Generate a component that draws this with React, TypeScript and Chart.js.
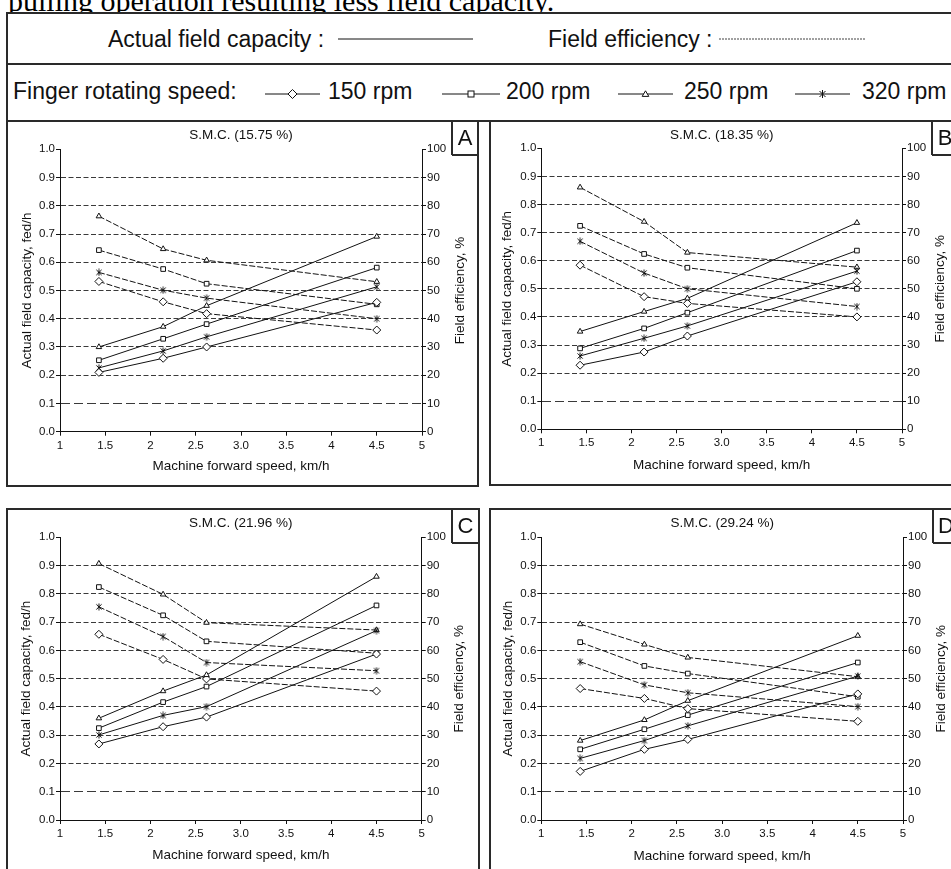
import React, { useEffect, useRef } from 'react';
import { Chart, registerables } from 'chart.js';

Chart.register(...registerables);

const SANS = '"Liberation Sans", Arial, Helvetica, sans-serif';
const SERIF = '"Liberation Serif", "Times New Roman", serif';
const INK = '#111111';
const LINE = '#2a2a2a';

// ---------- data ----------
const forwardSpeed = [1.43, 2.14, 2.62, 4.5]; // km/h
const rpmLabels = ['150 rpm', '200 rpm', '250 rpm', '320 rpm'];
const xTickLabels = ['1', '1.5', '2', '2.5', '3.0', '3.5', '4', '4.5', '5'];
const panelTitles = ['S.M.C. (15.75 %)', 'S.M.C. (18.35 %)', 'S.M.C. (21.96 %)', 'S.M.C. (29.24 %)'];
const panelLetters = ['A', 'B', 'C', 'D'];

// Actual field capacity, fed/h  (rows: 150, 200, 250, 320 rpm)
const capacityA = [
  [0.21, 0.26, 0.3, 0.458],
  [0.253, 0.329, 0.381, 0.581],
  [0.3, 0.372, 0.446, 0.691],
  [0.226, 0.286, 0.336, 0.513],
];
// Field efficiency, %
const efficiencyA = [
  [53.2, 46.0, 41.8, 36.0],
  [64.3, 57.6, 52.4, 45.1],
  [76.3, 64.7, 60.7, 53.1],
  [56.4, 50.1, 47.3, 40.0],
];

const capacityB = [
  [0.228, 0.275, 0.332, 0.525],
  [0.288, 0.359, 0.415, 0.636],
  [0.348, 0.419, 0.466, 0.735],
  [0.261, 0.324, 0.368, 0.563],
];
const efficiencyB = [
  [58.4, 47.2, 44.8, 40.0],
  [72.4, 62.4, 57.5, 50.0],
  [86.1, 73.9, 62.9, 57.7],
  [66.9, 55.6, 50.0, 43.7],
];

const capacityC = [
  [0.269, 0.33, 0.364, 0.587],
  [0.325, 0.417, 0.472, 0.759],
  [0.36, 0.456, 0.513, 0.861],
  [0.301, 0.37, 0.401, 0.67],
];
const efficiencyC = [
  [65.7, 56.8, 49.9, 45.6],
  [82.4, 72.4, 63.2, 59.0],
  [90.7, 79.8, 69.8, 67.2],
  [75.4, 64.9, 55.7, 52.8],
];

const capacityD = [
  [0.172, 0.25, 0.285, 0.446],
  [0.25, 0.321, 0.371, 0.557],
  [0.281, 0.354, 0.422, 0.652],
  [0.218, 0.281, 0.333, 0.509],
];
const efficiencyD = [
  [46.5, 43.0, 39.4, 34.9],
  [62.9, 54.5, 51.8, 43.6],
  [69.3, 62.1, 57.5, 50.7],
  [56.0, 47.8, 45.0, 40.1],
];

const capacitySets = [capacityA, capacityB, capacityC, capacityD];
const efficiencySets = [efficiencyA, efficiencyB, efficiencyC, efficiencyD];

// ---------- layout (page pixels) ----------
const panelGeom = [
  { x: 8, y: 121, w: 470, h: 365, top: 28.3, left: 52, right: 56, bottom: 54.3, xTitleGap: 35, yTitleGap: 32.7, titleGap: 13.6 },
  { x: 490, y: 121, w: 461, h: 364, top: 27.3, left: 51.3, right: 49, bottom: 55.7, xTitleGap: 36.4, yTitleGap: 34, titleGap: 12.8 },
  { x: 8, y: 509, w: 471, h: 360, top: 28.3, left: 52, right: 57.3, bottom: 49, xTitleGap: 35, yTitleGap: 33.3, titleGap: 14 },
  { x: 490, y: 509, w: 461, h: 360, top: 28.3, left: 51.3, right: 48, bottom: 49, xTitleGap: 36.5, yTitleGap: 32.6, titleGap: 14 },
];

function makeStarMarker(size: number): HTMLCanvasElement {
  const c = document.createElement('canvas');
  c.width = size;
  c.height = size;
  const g = c.getContext('2d')!;
  g.strokeStyle = INK;
  g.lineWidth = 1;
  const m = size / 2;
  const r = size / 2 - 0.5;
  g.beginPath();
  g.moveTo(m - r * 0.75, m - r * 0.75);
  g.lineTo(m + r * 0.75, m + r * 0.75);
  g.moveTo(m + r * 0.75, m - r * 0.75);
  g.lineTo(m - r * 0.75, m + r * 0.75);
  g.moveTo(m, m - r);
  g.lineTo(m, m + r);
  g.stroke();
  return c;
}

const TITLE_SIZE = 13.5;

const panelTextPlugin = {
  id: 'panelText',
  afterDraw(chart: any, _args: any, opts: any) {
    const { ctx, chartArea: ca } = chart;
    ctx.save();
    ctx.fillStyle = INK;
    ctx.textAlign = 'center';
    ctx.textBaseline = 'middle';
    ctx.font = `${TITLE_SIZE}px ${SANS}`;
    ctx.fillText(opts.title, (ca.left + ca.right) / 2, ca.top - opts.titleGap);
    ctx.translate(ca.right + 38, (ca.top + ca.bottom) / 2);
    ctx.rotate(-Math.PI / 2);
    ctx.fillText(opts.rightTitle, 0, 0);
    ctx.restore();
  },
};

const near = (a: number, b: number) => Math.abs(a - b) < 1e-6;

function PanelChart({ idx }: { idx: number }) {
  const ref = useRef<HTMLCanvasElement | null>(null);
  const g = panelGeom[idx];
  useEffect(() => {
    const star = makeStarMarker(8);
    const markerStyles: any[] = ['rectRot', 'rect', 'triangle', star];
    const markerRadius = [4, 3.3, 3.2, 4];
    const capacity = capacitySets[idx];
    const efficiency = efficiencySets[idx];
    const datasets: any[] = [];
    capacity.forEach((vals, i) => {
      datasets.push({
        label: `Actual field capacity ${rpmLabels[i]}`,
        data: forwardSpeed.map((x, j) => ({ x, y: vals[j] })),
        yAxisID: 'y',
        borderColor: INK,
        borderWidth: 1,
        pointStyle: markerStyles[i],
        pointRadius: markerRadius[i],
        pointBorderWidth: 1,
        pointBackgroundColor: '#ffffff',
        pointBorderColor: INK,
        fill: false,
        tension: 0,
      });
    });
    efficiency.forEach((vals, i) => {
      datasets.push({
        label: `Field efficiency ${rpmLabels[i]}`,
        data: forwardSpeed.map((x, j) => ({ x, y: vals[j] })),
        yAxisID: 'y1',
        borderColor: INK,
        borderWidth: 1,
        borderDash: [6, 2],
        pointStyle: markerStyles[i],
        pointRadius: markerRadius[i],
        pointBorderWidth: 1,
        pointBackgroundColor: '#ffffff',
        pointBorderColor: INK,
        fill: false,
        tension: 0,
      });
    });

    const tickFont = { family: SANS, size: 11.5 };
    const titleFont = { family: SANS, size: TITLE_SIZE };
    const half = (TITLE_SIZE * 1.2) / 2;
    const chart = new Chart(ref.current!, {
      type: 'line',
      data: { datasets },
      plugins: [panelTextPlugin as any],
      options: {
        animation: false,
        responsive: false,
        devicePixelRatio: 1,
        events: [],
        layout: { padding: { top: g.top, left: 0, right: 0, bottom: 0 } },
        plugins: {
          legend: { display: false },
          title: { display: false },
          tooltip: { enabled: false },
          panelText: { title: panelTitles[idx], rightTitle: 'Field efficiency, %', titleGap: g.titleGap },
        } as any,
        scales: {
          x: {
            type: 'linear',
            min: 1,
            max: 5,
            afterFit: (s: any) => {
              s.height = g.bottom;
            },
            ticks: {
              stepSize: 0.5,
              autoSkip: false,
              maxRotation: 0,
              padding: 3,
              color: INK,
              font: tickFont,
              callback: (v: any) => xTickLabels[Math.round((Number(v) - 1) * 2)] ?? String(v),
            },
            grid: { drawOnChartArea: false, drawTicks: true, tickLength: 4, tickColor: INK, color: INK },
            border: { display: true, color: INK, width: 1 },
            title: {
              display: true,
              text: 'Machine forward speed, km/h',
              color: INK,
              font: titleFont,
              padding: { top: 0, bottom: g.bottom - g.xTitleGap - half },
            },
          },
          y: {
            type: 'linear',
            position: 'left',
            min: 0,
            max: 1,
            afterFit: (s: any) => {
              s.width = g.left;
            },
            ticks: {
              stepSize: 0.1,
              padding: 1,
              color: INK,
              font: tickFont,
              callback: (v: any) => Number(v).toFixed(1),
            },
            grid: {
              color: (c: any) => {
                const v = c.tick ? c.tick.value : -1;
                return near(v, 0) || near(v, 1) ? 'rgba(0,0,0,0)' : '#3a3a3a';
              },
              lineWidth: 1,
              tickLength: 4,
              tickColor: INK,
            },
            border: {
              display: true,
              color: INK,
              width: 1,
              dash: (c: any) => (c && c.tick && near(c.tick.value, 0.1) ? [9, 4] : [5, 2.5]),
            },
            title: {
              display: true,
              text: 'Actual field capacity, fed/h',
              color: INK,
              font: titleFont,
              padding: { top: g.left - g.yTitleGap - half, bottom: 0 },
            },
          },
          y1: {
            type: 'linear',
            position: 'right',
            min: 0,
            max: 100,
            afterFit: (s: any) => {
              s.width = g.right;
            },
            ticks: { stepSize: 10, padding: 1, color: INK, font: tickFont },
            grid: { drawOnChartArea: false, drawTicks: true, tickLength: 4, tickColor: INK, color: INK },
            border: { display: true, color: INK, width: 1 },
            title: { display: false },
          },
        },
      } as any,
    });
    return () => chart.destroy();
  }, [idx]);
  return (
    <canvas
      ref={ref}
      width={g.w}
      height={g.h}
      style={{ position: 'absolute', left: g.x, top: g.y, width: g.w, height: g.h }}
    />
  );
}

function HLine({ x1, x2, y, t = 2 }: { x1: number; x2: number; y: number; t?: number }) {
  return <div style={{ position: 'absolute', left: x1, top: y - t / 2, width: x2 - x1, height: t, background: LINE }} />;
}
function VLine({ x, y1, y2, t = 2 }: { x: number; y1: number; y2: number; t?: number }) {
  return <div style={{ position: 'absolute', left: x - t / 2, top: y1, width: t, height: y2 - y1, background: LINE }} />;
}

function LegendText({ x, cy, text }: { x: number; cy: number; text: string }) {
  return (
    <div
      style={{
        position: 'absolute',
        left: x,
        top: cy - 11.5,
        height: 23,
        lineHeight: '23px',
        fontSize: 23,
        fontFamily: SANS,
        color: INK,
        whiteSpace: 'nowrap',
      }}
    >
      {text}
    </div>
  );
}

function MarkerGlyph({ kind }: { kind: number }) {
  if (kind === 0) return <polygon points="-4.5,0 0,-4.5 4.5,0 0,4.5" fill="#fff" stroke={INK} strokeWidth={1} />;
  if (kind === 1) return <rect x={-3} y={-3} width={6} height={6} fill="#fff" stroke={INK} strokeWidth={1} />;
  if (kind === 2) return <polygon points="0,-3.2 3.3,2.4 -3.3,2.4" fill="#fff" stroke={INK} strokeWidth={1} />;
  return (
    <g stroke={INK} strokeWidth={1}>
      <line x1={-3} y1={-3} x2={3} y2={3} />
      <line x1={3} y1={-3} x2={-3} y2={3} />
      <line x1={0} y1={-4} x2={0} y2={4} />
    </g>
  );
}

function LegendSymbol({ x1, x2, cy, kind, dotted }: { x1: number; x2: number; cy: number; kind?: number; dotted?: boolean }) {
  const w = x2 - x1;
  return (
    <svg style={{ position: 'absolute', left: x1, top: cy - 10 }} width={w} height={20}>
      <line
        x1={0}
        y1={10}
        x2={w}
        y2={10}
        stroke={INK}
        strokeWidth={dotted ? 0.8 : 1}
        strokeDasharray={dotted ? '2 1' : undefined}
      />
      {kind !== undefined && (
        <g transform={`translate(${w / 2},10)`}>
          <MarkerGlyph kind={kind} />
        </g>
      )}
    </svg>
  );
}

function LetterBox({ x1, x2, y1, y2, letter }: { x1: number; x2: number; y1: number; y2: number; letter: string }) {
  return (
    <>
      <VLine x={x1} y1={y1} y2={y2} />
      <HLine x1={x1} x2={x2} y={y2} />
      <div
        style={{
          position: 'absolute',
          left: x1,
          top: y1,
          width: x2 - x1,
          height: y2 - y1,
          display: 'flex',
          alignItems: 'center',
          justifyContent: 'center',
          fontFamily: SANS,
          fontSize: 22,
          color: INK,
        }}
      >
        {letter}
      </div>
    </>
  );
}

export default function App() {
  const row2 = 91.5;
  const symRow2 = 93.5;
  return (
    <div
      style={{
        position: 'absolute',
        left: 0,
        top: 0,
        width: 951,
        height: 869,
        overflow: 'hidden',
        background: '#ffffff',
      }}
    >
      <div
        style={{
          position: 'absolute',
          left: 8,
          top: -14,
          fontFamily: SERIF,
          fontSize: 30,
          lineHeight: '30px',
          whiteSpace: 'nowrap',
          color: '#000',
        }}
      >
        pulling operation resulting less field capacity.
      </div>
      <div style={{ position: 'absolute', left: 0, top: 12, width: 951, height: 40, background: '#ffffff' }} />

      <LegendText x={108} cy={39} text="Actual field capacity :" />
      <LegendSymbol x1={338} x2={473} cy={38.5} />
      <LegendText x={548} cy={39} text="Field efficiency :" />
      <LegendSymbol x1={719} x2={866} cy={39} dotted />

      <LegendText x={13} cy={row2} text="Finger rotating speed:" />
      <LegendSymbol x1={265} x2={320} cy={symRow2} kind={0} />
      <LegendText x={328} cy={row2} text={rpmLabels[0]} />
      <LegendSymbol x1={442} x2={500} cy={symRow2} kind={1} />
      <LegendText x={506} cy={row2} text={rpmLabels[1]} />
      <LegendSymbol x1={618} x2={673} cy={symRow2} kind={2} />
      <LegendText x={684} cy={row2} text={rpmLabels[2]} />
      <LegendSymbol x1={795} x2={850} cy={symRow2} kind={3} />
      <LegendText x={862} cy={row2} text={rpmLabels[3]} />

      {panelGeom.map((_, i) => (
        <PanelChart key={i} idx={i} />
      ))}

      {/* legend box */}
      <HLine x1={6} x2={951} y={13} />
      <HLine x1={6} x2={951} y={63.5} />
      <HLine x1={6} x2={951} y={121} />
      <VLine x={7} y1={12} y2={487} />

      {/* panel frames */}
      <VLine x={478} y1={121} y2={487} />
      <HLine x1={6} x2={479} y={486} />
      <VLine x={490} y1={121} y2={486} />
      <HLine x1={489} x2={951} y={485} />
      <HLine x1={6} x2={480} y={509} />
      <VLine x={7} y1={508} y2={869} />
      <VLine x={479} y1={508} y2={869} />
      <HLine x1={489} x2={951} y={509} />
      <VLine x={490} y1={508} y2={869} />

      <LetterBox x1={452} x2={478} y1={121} y2={155} letter={panelLetters[0]} />
      <LetterBox x1={932} x2={958} y1={121} y2={155} letter={panelLetters[1]} />
      <LetterBox x1={452} x2={479} y1={509} y2={543} letter={panelLetters[2]} />
      <LetterBox x1={933} x2={959} y1={509} y2={543} letter={panelLetters[3]} />
    </div>
  );
}
